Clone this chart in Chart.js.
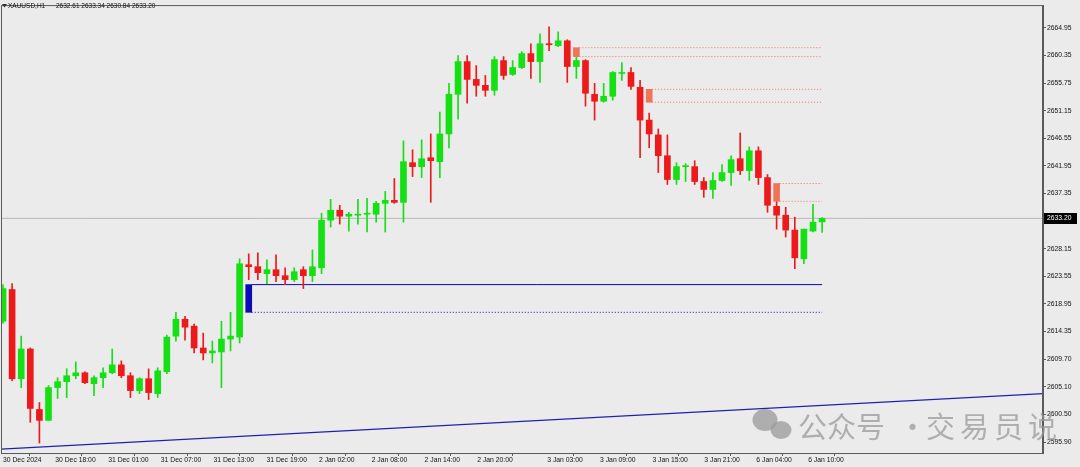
<!DOCTYPE html>
<html>
<head>
<meta charset="utf-8">
<script src="https://cdn.jsdelivr.net/npm/chart.js@4.4.1/dist/chart.umd.min.js"></script>
<style>
  html, body { margin: 0; padding: 0; background: #ebebeb; }
  #wrap { width: 1080px; height: 467px; position: relative; }
</style>
</head>
<body>
<div id="wrap"><canvas id="chart" width="1080" height="467"></canvas></div>
<script>
// XAUUSD H1 candles, bar index 0..90 (last one is the live bar)
const symbol = 'XAUUSD,H1';

const opens = [
  2616.05, 2621.34, 2606.47, 2611.43, 2601.35, 2599.53, 2604.99, 2605.98, 2606.97, 2607.46,
  2605.65, 2606.64, 2607.46, 2608.78, 2606.97, 2604.49, 2606.47, 2603.99, 2607.63, 2613.57,
  2616.38, 2615.23, 2611.59, 2610.77, 2610.93, 2613.08, 2613.41, 2625.47, 2625.14, 2623.98,
  2624.64, 2623.65, 2622.99, 2624.64, 2623.65, 2624.97, 2632.90, 2634.55, 2633.56, 2633.73,
  2633.89, 2633.89, 2635.71, 2636.20, 2635.87, 2642.48, 2641.82, 2643.31, 2642.65, 2647.27,
  2653.88, 2659.33, 2656.36, 2655.37, 2654.54, 2659.50, 2657.19, 2658.34, 2660.66, 2659.33,
  2662.31, 2661.98, 2662.80, 2658.51, 2659.50, 2653.88, 2652.72, 2653.55, 2657.35, 2657.52,
  2655.04, 2649.58, 2647.11, 2643.64, 2639.67, 2641.82, 2641.82, 2639.34, 2638.02, 2639.51,
  2640.83, 2643.14, 2641.16, 2644.46, 2640.00, 2635.21, 2633.73, 2631.25, 2626.46, 2631.08,
  2632.61
];
const highs = [
  2622.16, 2622.33, 2613.57, 2611.60, 2602.51, 2605.32, 2606.64, 2608.12, 2609.28, 2607.63,
  2606.97, 2608.29, 2611.43, 2609.45, 2607.46, 2606.64, 2608.12, 2608.29, 2613.74, 2617.54,
  2616.88, 2615.56, 2614.07, 2612.75, 2616.05, 2617.54, 2626.46, 2627.29, 2627.45, 2626.29,
  2627.12, 2624.97, 2624.97, 2625.14, 2627.95, 2634.06, 2636.37, 2635.38, 2634.22, 2636.37,
  2636.54, 2636.04, 2637.69, 2639.84, 2646.12, 2644.63, 2646.28, 2647.27, 2650.91, 2655.70,
  2660.33, 2660.33, 2658.67, 2657.02, 2660.16, 2660.16, 2659.50, 2660.99, 2662.31, 2663.96,
  2665.11, 2664.29, 2662.97, 2660.16, 2659.66, 2655.70, 2655.70, 2657.68, 2659.17, 2658.34,
  2656.19, 2650.74, 2648.10, 2647.11, 2642.48, 2642.32, 2642.81, 2640.00, 2640.83, 2642.15,
  2643.64, 2647.44, 2645.12, 2645.12, 2640.50, 2636.04, 2635.05, 2633.40, 2631.41, 2635.54,
  2633.34
];
const lows = [
  2615.72, 2606.14, 2604.99, 2599.20, 2595.74, 2599.53, 2603.17, 2603.33, 2606.47, 2605.65,
  2603.66, 2604.99, 2607.30, 2606.64, 2603.33, 2603.99, 2603.00, 2603.33, 2607.30, 2612.75,
  2612.91, 2610.77, 2609.61, 2609.12, 2604.99, 2611.10, 2612.42, 2622.99, 2622.99, 2622.33,
  2622.66, 2622.16, 2622.66, 2621.50, 2622.66, 2623.98, 2631.74, 2632.24, 2631.08, 2632.24,
  2630.92, 2632.57, 2630.92, 2635.71, 2632.57, 2640.17, 2640.00, 2635.87, 2640.00, 2644.96,
  2649.75, 2652.39, 2653.55, 2653.55, 2653.72, 2656.36, 2657.02, 2658.18, 2656.53, 2655.86,
  2661.15, 2661.81, 2655.86, 2656.53, 2651.90, 2649.58, 2652.56, 2652.89, 2656.19, 2654.71,
  2643.31, 2644.96, 2640.83, 2638.85, 2638.85, 2639.34, 2638.85, 2636.70, 2636.54, 2639.34,
  2638.68, 2640.50, 2639.51, 2638.85, 2634.22, 2631.41, 2630.09, 2624.81, 2625.63, 2630.92,
  2630.84
];
const closes = [
  2621.50, 2606.47, 2611.43, 2601.52, 2599.53, 2604.99, 2605.98, 2606.97, 2607.46, 2605.81,
  2606.64, 2607.46, 2608.78, 2606.97, 2604.49, 2606.47, 2604.16, 2607.79, 2613.41, 2616.38,
  2615.06, 2611.59, 2610.77, 2611.10, 2613.08, 2613.57, 2625.63, 2625.14, 2624.15, 2624.64,
  2623.65, 2622.99, 2624.31, 2623.65, 2625.14, 2632.90, 2634.55, 2633.56, 2633.89, 2633.89,
  2634.06, 2635.71, 2636.20, 2635.87, 2642.65, 2641.82, 2643.14, 2642.81, 2647.27, 2653.88,
  2659.33, 2656.36, 2655.37, 2654.54, 2659.66, 2657.02, 2658.34, 2660.66, 2659.33, 2662.31,
  2662.14, 2662.80, 2658.51, 2659.50, 2654.05, 2652.72, 2653.55, 2657.52, 2657.52, 2655.20,
  2649.58, 2647.27, 2643.64, 2639.67, 2641.82, 2641.99, 2639.34, 2638.02, 2639.51, 2640.83,
  2642.98, 2641.16, 2644.46, 2640.00, 2635.38, 2633.73, 2631.25, 2626.62, 2631.41, 2632.57,
  2633.20
];

// time axis labels and the bar they sit on
const xTickLabels = ['30 Dec 2024', '30 Dec 18:00', '31 Dec 01:00', '31 Dec 07:00', '31 Dec 13:00', '31 Dec 19:00',
  '2 Jan 02:00', '2 Jan 08:00', '2 Jan 14:00', '2 Jan 20:00', '3 Jan 03:00', '3 Jan 09:00', '3 Jan 15:00',
  '3 Jan 21:00', '6 Jan 04:00', '6 Jan 10:00'];
const xTickBars = [0, 5.74, 11.56, 17.34, 23.13, 28.95, 34.72, 40.51, 46.32, 52.11, 59.8, 65.6, 71.35, 77.06, 82.77, 88.47];

// price scale labels
const yTickLabels = ['2664.95', '2660.35', '2655.75', '2651.15', '2646.55', '2641.95', '2637.35', '2632.75',
  '2628.15', '2623.55', '2618.95', '2614.35', '2609.70', '2605.10', '2600.50', '2595.90'];

// supply / demand zones: box on the source bar, lines run to the live bar
const zoneBars = [27, 63, 71, 85];
const zoneTops = [2622.16, 2661.65, 2654.71, 2639.01];
const zoneBottoms = [2617.54, 2660.16, 2652.56, 2636.04];
const zoneKinds = ['demand', 'supply', 'supply', 'supply'];
const zoneEnd = 90;

// long trend line
const trendBars = [-0.22, 114.27];
const trendPrices = [2594.75, 2604.00];

const xMin = -0.22, xMax = 114.27;
const yMin = 2594.09, yMax = 2668.75;

const BG = '#ebebeb';
const UP = '#14e014';
const DOWN = '#ec1a1a';
const SALMON = '#ef7458';
const BLUE = '#0c0cb4';
const FRAME = '#5a5a5a';
const TEXT = '#111';
const FONT = { family: '"Liberation Sans", Arial, sans-serif', size: 6.8 };

const last = closes.length - 1;
const candleColor = opens.map((o, i) => closes[i] >= o ? UP : DOWN);

const datasets = [
  {
    type: 'bar', label: 'wicks', order: 2,
    data: opens.map((o, i) => ({ x: i, y: [lows[i], highs[i]] })),
    backgroundColor: candleColor, barThickness: 1, grouped: false,
  },
  {
    type: 'bar', label: 'bodies', order: 1,
    data: opens.map((o, i) => ({ x: i, y: [o, closes[i]] })),
    backgroundColor: candleColor, barThickness: 6, minBarLength: 1, grouped: false,
  },
  {
    type: 'bar', label: 'zones', order: 0,
    data: zoneBars.map((b, i) => ({ x: b, y: [zoneBottoms[i], zoneTops[i]] })),
    backgroundColor: zoneKinds.map((k) => k === 'demand' ? BLUE : SALMON), barThickness: 6, grouped: false,
  },
];

zoneBars.forEach((b, i) => {
  const col = zoneKinds[i] === 'demand' ? BLUE : SALMON;
  [zoneTops[i], zoneBottoms[i]].forEach((p, j) => {
    const solid = zoneKinds[i] === 'demand' && j === 0;
    datasets.push({
      type: 'line', order: 3,
      data: [{ x: b + 0.33, y: p }, { x: zoneEnd, y: p }],
      borderColor: col, borderWidth: 1, borderDash: solid ? [] : [1, 2],
      pointRadius: 0, fill: false,
    });
  });
});

datasets.push({
  type: 'line', order: 5,
  data: [{ x: xMin, y: closes[last] }, { x: xMax, y: closes[last] }],
  borderColor: '#b8b8b8', borderWidth: 1, pointRadius: 0, fill: false,
});
datasets.push({
  type: 'line', order: 4,
  data: trendBars.map((b, i) => ({ x: b, y: trendPrices[i] })),
  borderColor: '#2020b0', borderWidth: 1.2, pointRadius: 0, fill: false,
});

const frame = {
  id: 'frame',
  beforeDraw(chart) {
    const { ctx } = chart;
    ctx.save();
    ctx.fillStyle = BG;
    ctx.fillRect(0, 0, chart.width, chart.height);
    ctx.restore();
  },
  afterDraw(chart) {
    const { ctx, chartArea: a, scales } = chart;
    ctx.save();
    ctx.strokeStyle = FRAME;
    ctx.lineWidth = 1;
    ctx.strokeRect(a.left + 0.5, a.top + 0.5, a.right - a.left - 1, a.bottom - a.top);

    // header
    ctx.fillStyle = '#333';
    ctx.beginPath();
    ctx.moveTo(2, 4); ctx.lineTo(7, 4); ctx.lineTo(4.5, 7.5); ctx.closePath();
    ctx.fill();
    ctx.fillStyle = TEXT;
    ctx.font = `6.5px ${FONT.family}`;
    ctx.textBaseline = 'middle';
    ctx.textAlign = 'left';
    ctx.fillText(symbol, 8, 6.5);
    const ohlc = [opens[last], highs[last], lows[last], closes[last]].map((v) => v.toFixed(2)).join(' ');
    ctx.fillText(ohlc, 56, 6.5);

    // live price tag
    ctx.font = `${FONT.size}px ${FONT.family}`;
    const y = Math.round(scales.y.getPixelForValue(closes[last]));
    ctx.fillStyle = '#000';
    ctx.fillRect(a.right + 1, y - 5, 33, 11);
    ctx.fillStyle = '#fff';
    ctx.fillText(closes[last].toFixed(2), a.right + 4, y + 0.5);

    // watermark
    ctx.globalAlpha = 0.75;
    ctx.fillStyle = '#9a9a9a';
    ctx.beginPath(); ctx.ellipse(765, 420, 12.5, 11, 0, 0, Math.PI * 2); ctx.fill();
    ctx.beginPath(); ctx.ellipse(781, 430, 10.5, 9, 0, 0, Math.PI * 2); ctx.fill();
    ctx.font = '29px "Noto Sans CJK SC", sans-serif';
    ctx.textBaseline = 'alphabetic';
    ctx.fillText('公众号', 798, 438);
    ctx.fillText('·', 898, 438);
    ctx.letterSpacing = '5px';
    ctx.fillText('交易员说', 926, 438);
    ctx.restore();
  },
};

new Chart(document.getElementById('chart'), {
  type: 'bar',
  data: { datasets },
  plugins: [frame],
  options: {
    responsive: false,
    devicePixelRatio: 1,
    animation: false,
    layout: { padding: { left: 1, top: 1, right: 0, bottom: 0 } },
    plugins: { legend: { display: false }, tooltip: { enabled: false } },
    scales: {
      x: {
        type: 'linear', min: xMin, max: xMax, offset: false, bounds: 'data',
        afterBuildTicks: (s) => { s.ticks = xTickBars.map((v) => ({ value: v })); },
        afterFit: (s) => { s.height = 14; },
        ticks: { callback: (v, i) => xTickLabels[i], autoSkip: false, maxRotation: 0, align: 'start', padding: 0, color: TEXT, font: FONT },
        grid: { drawOnChartArea: false, tickLength: 3, color: FRAME },
        border: { color: FRAME },
      },
      y: {
        position: 'right', min: yMin, max: yMax, bounds: 'data',
        afterBuildTicks: (s) => { s.ticks = yTickLabels.map((t) => ({ value: parseFloat(t) })); },
        afterFit: (s) => { s.width = 37; },
        ticks: { callback: (v, i) => yTickLabels[i], autoSkip: false, padding: 1, color: TEXT, font: FONT },
        grid: { drawOnChartArea: false, tickLength: 3, color: FRAME },
        border: { color: FRAME },
      },
    },
  },
});
</script>
</body>
</html>
